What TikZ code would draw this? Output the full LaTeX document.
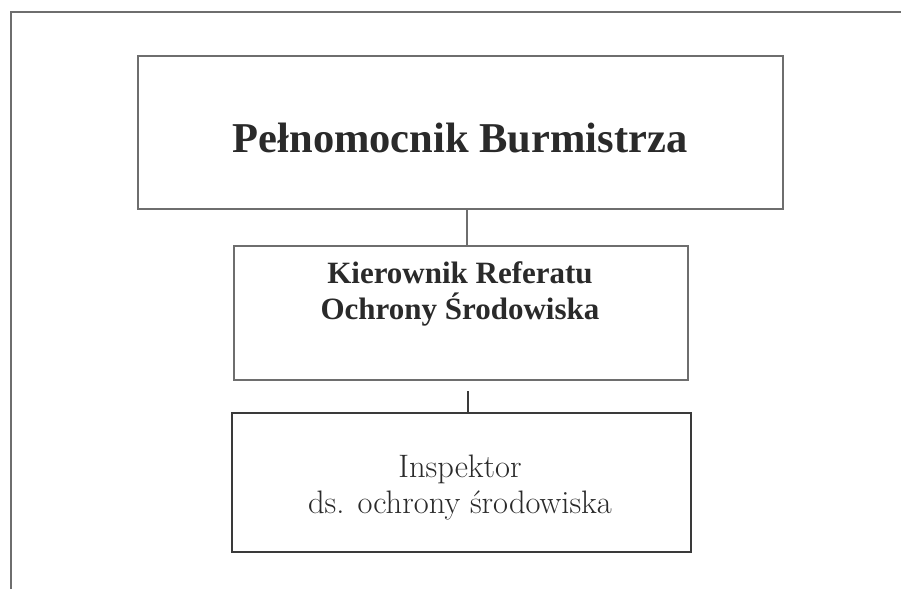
\documentclass[tikz,border=0pt]{standalone}
\usepackage{fontspec}
\newfontfamily\timesfont{Liberation Serif}
\usetikzlibrary{positioning}
\definecolor{linegray}{HTML}{6E6E6E}
\definecolor{darkline}{HTML}{3A3A3A}
\definecolor{textgray}{HTML}{2A2A2A}
\begin{document}
\begin{tikzpicture}[x=1pt,y=-1pt,
  framebox/.style={draw=linegray,line width=1.1pt,inner sep=0pt,minimum width=#1},
  thickbox/.style={draw=darkline,line width=2pt,inner sep=0pt},
  conn/.style={draw=linegray,line width=1.1pt},
  thickconn/.style={draw=darkline,line width=1.6pt},
  txt/.style={inner sep=0pt,anchor=base,text=textgray}]
\useasboundingbox[fill=white] (0,0) rectangle (901,589);
% outer open frame
\coordinate (fbl) at (11,589);
\coordinate (ftl) at (11,12);
\coordinate (ftr) at (901,12);
\draw[draw=linegray,line width=1.3pt] (fbl) -- (ftl) -- (ftr);
% boxes
\node[framebox=645pt,minimum height=153pt] (b1) at (460.5,132.5) {};
\node[framebox=454pt,minimum height=134pt] (b2) at (461,313) {};
\node[thickbox,minimum width=459pt,minimum height=139pt] (b3) at (461.5,482.5) {};
% texts
\node[txt,font=\timesfont\bfseries\fontsize{42.5}{42.5}\selectfont] (t1) at (460,152) {Pełnomocnik Burmistrza};
\node[txt,font=\timesfont\bfseries\fontsize{31}{31}\selectfont] (t2a) at (460,283) {Kierownik Referatu};
\node[txt,font=\timesfont\bfseries\fontsize{31}{31}\selectfont] (t2b) at (460,319) {Ochrony Środowiska};
\node[txt,font=\fontsize{32.5}{32.5}\selectfont] (t3a) at (460,477) {Inspektor};
\node[txt,font=\fontsize{32.5}{32.5}\selectfont] (t3b) at (460,513) {ds. ochrony środowiska};
% connectors
\coordinate (k1) at (467,0);
\coordinate (k2) at (468,391);
\draw[conn] (b1.south -| k1) -- (b2.north -| k1);
\draw[thickconn] (k2) -- (b3.north -| k2);
\end{tikzpicture}
\end{document}
